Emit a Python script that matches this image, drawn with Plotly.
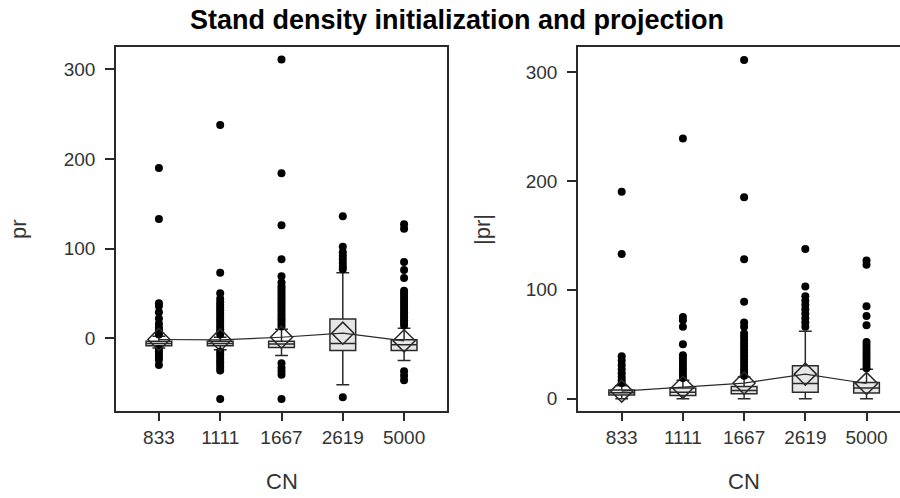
import plotly.graph_objects as go

categories = ["833", "1111", "1667", "2619", "5000"]

# Left panel: pr
pr_q1 = [-8.5, -8.5, -10.5, -13.8, -13.8]
pr_median = [-6, -6, -6.5, -6, -7.5]
pr_q3 = [-3.5, -3.5, -3.5, 21.5, -1.9]
pr_lower = [-11, -13, -19.5, -52, -25]
pr_upper = [2, 1, 10, 73, 11]
pr_mean = [-1.5, -2, 1, 5.5, -3]
pr_outliers = [
    [190, 133, 39, 36, 29, 22, 16, 12, 9, 6, 4, -12, -15, -18, -21, -24, -30],
    [238, 73, 50, 44, 40, 37, 34, 31, 28, 25, 22, 19, 16, 13, 10, 7, 4,
     -15, -18, -21, -24, -27, -30, -33, -36, -68],
    [311, 184, 126, 88, 69, 62, 58, 55, 52, 49, 46, 43, 40, 37, 34, 31, 28,
     25, 22, 19, 16, 13, -28, -33, -37, -41, -68],
    [136, 102, 96, 92, 88, 84, 80, 77, -66],
    [127, 122, 85, 76, 67, 53, 50, 47, 44, 41, 38, 35, 32, 29, 26, 23, 20,
     17, 14, -37, -42, -47],
]

# Right panel: |pr|
abs_q1 = [3.5, 3, 4.6, 6, 5.2]
abs_median = [5.5, 6, 7.6, 14, 9.8]
abs_q3 = [8, 9.8, 11.3, 30.3, 15]
abs_lower = [0, 0, 0, 0, 0]
abs_upper = [12, 17, 20, 62, 27]
abs_mean = [7, 10.5, 14.4, 22.6, 14]
abs_outliers = [
    [190, 133, 39, 35, 31, 27, 23.5, 20, 17, 14.5],
    [239, 75, 72, 66, 50, 40, 37, 34, 31, 28, 25, 22, 19],
    [311, 185, 128, 89, 70, 66, 60, 57, 54, 51, 48, 45, 42, 39, 36, 33,
     30, 27, 24, 21],
    [137.5, 103, 94, 90, 86, 82, 78, 74, 70, 66],
    [127, 123, 85, 76, 67.5, 52, 49, 46, 43, 40, 37, 34, 31, 28],
]

pos = list(range(len(categories)))
FONT = "Liberation Sans, Arial, sans-serif"
DARK = "#2a2a2a"
BOXFILL = "#e6e6e6"

fig = go.Figure()


def add_panel(q1, med, q3, lo, hi, mean, outs, xa, ya):
    fig.add_trace(go.Box(
        x=pos, q1=q1, median=med, q3=q3, lowerfence=lo, upperfence=hi,
        boxpoints=False, width=0.42, whiskerwidth=0.5,
        fillcolor=BOXFILL, line=dict(color=DARK, width=1.5),
        xaxis=xa, yaxis=ya, showlegend=False, hoverinfo="skip"))
    ox, oy = [], []
    for i, vals in enumerate(outs):
        for v in vals:
            ox.append(pos[i])
            oy.append(v)
    fig.add_trace(go.Scatter(
        x=ox, y=oy, mode="markers",
        marker=dict(symbol="circle", size=8, color="black"),
        xaxis=xa, yaxis=ya, showlegend=False))
    fig.add_trace(go.Scatter(
        x=pos, y=mean, mode="lines+markers",
        line=dict(color=DARK, width=1.2),
        marker=dict(symbol="diamond-open", size=17, color=DARK,
                    line=dict(width=1.5, color=DARK)),
        xaxis=xa, yaxis=ya, showlegend=False))


add_panel(pr_q1, pr_median, pr_q3, pr_lower, pr_upper, pr_mean, pr_outliers, "x", "y")
add_panel(abs_q1, abs_median, abs_q3, abs_lower, abs_upper, abs_mean, abs_outliers, "x2", "y2")

W, H = 900, 498
ybot = 1 - 410.7 / H
ytop = 1 - 47 / H

axis_common = dict(
    showgrid=False, zeroline=False, showline=True, linecolor=DARK, linewidth=1.5,
    ticks="outside", ticklen=9, tickwidth=1.5, tickcolor=DARK,
    tickfont=dict(family=FONT, size=19, color="#333333"),
)

fig.update_layout(
    width=W, height=H, margin=dict(l=0, r=0, t=0, b=0),
    paper_bgcolor="white", plot_bgcolor="white",
    xaxis=dict(domain=[116 / W, 447 / W], range=[-0.70, 4.70], tickvals=pos,
               ticktext=categories, mirror=True, anchor="y", **axis_common),
    yaxis=dict(domain=[ybot, ytop], range=[-81, 325], tickvals=[0, 100, 200, 300],
               mirror=True, anchor="x", ticklabelstandoff=6, **axis_common),
    xaxis2=dict(domain=[578 / W, 1.0], range=[-0.714, 4.547], tickvals=pos,
                ticktext=categories, mirror=True, anchor="y2", **axis_common),
    yaxis2=dict(domain=[ybot, ytop], range=[-11, 323], tickvals=[0, 100, 200, 300],
                mirror=False, anchor="x2", ticklabelstandoff=6, **axis_common),
    annotations=[
        dict(text="<b>Stand density initialization and projection</b>", x=457 / W, y=1 - 20 / H,
             xref="paper", yref="paper", showarrow=False, xanchor="center", yanchor="middle",
             font=dict(family=FONT, size=27, color="black")),
        dict(text="pr", x=19 / W, y=1 - 229 / H, xref="paper", yref="paper", showarrow=False,
             textangle=-90, xanchor="center", yanchor="middle",
             font=dict(family=FONT, size=22, color="#333333")),
        dict(text="|pr|", x=483 / W, y=1 - 229 / H, xref="paper", yref="paper", showarrow=False,
             textangle=-90, xanchor="center", yanchor="middle",
             font=dict(family=FONT, size=22, color="#333333")),
        dict(text="CN", x=281.5 / W, y=1 - 481 / H, xref="paper", yref="paper", showarrow=False,
             xanchor="center", yanchor="middle",
             font=dict(family=FONT, size=22, color="#333333")),
        dict(text="CN", x=744 / W, y=1 - 481 / H, xref="paper", yref="paper", showarrow=False,
             xanchor="center", yanchor="middle",
             font=dict(family=FONT, size=22, color="#333333")),
    ],
)

fig.write_html("out.html")
